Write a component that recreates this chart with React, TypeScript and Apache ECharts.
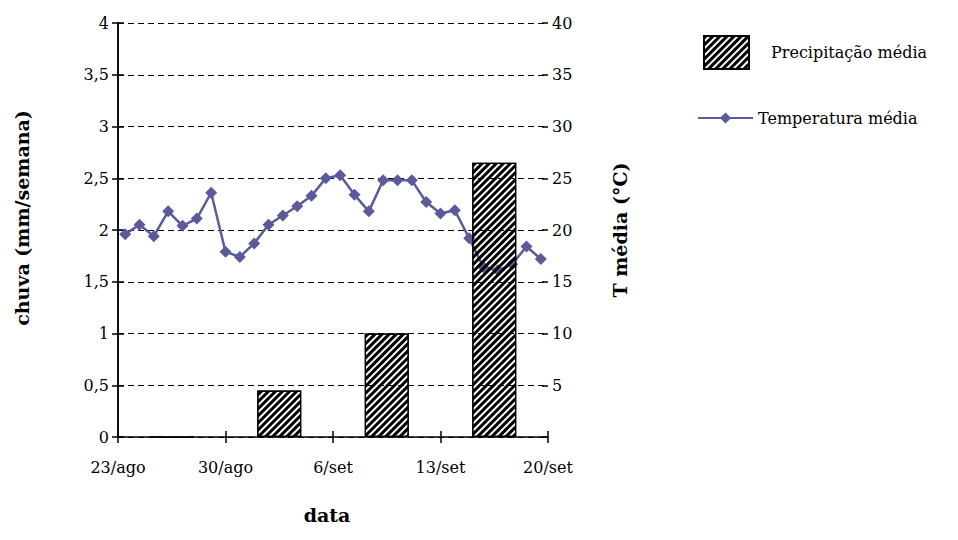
import React, { useEffect, useRef } from "react";
import * as echarts from "echarts";

const tickLabels = ["23/ago", "30/ago", "6/set", "13/set", "20/set"];
const weeks = ["23/ago-30/ago", "30/ago-6/set", "6/set-13/set", "13/set-20/set"];
const precipitation = [0, 0.45, 1.0, 2.65];
const days = [
  "22/ago", "23/ago", "24/ago", "25/ago", "26/ago", "27/ago", "28/ago", "29/ago", "30/ago", "31/ago",
  "1/set", "2/set", "3/set", "4/set", "5/set", "6/set", "7/set", "8/set", "9/set", "10/set",
  "11/set", "12/set", "13/set", "14/set", "15/set", "16/set", "17/set", "18/set", "19/set", "20/set",
];
const temperature = [
  19.6, 20.5, 19.4, 21.8, 20.4, 21.1, 23.6, 17.9, 17.4, 18.7,
  20.5, 21.4, 22.3, 23.3, 25.0, 25.3, 23.4, 21.8, 24.8, 24.8,
  24.8, 22.7, 21.6, 21.9, 19.2, 16.4, 16.1, 16.7, 18.4, 17.2,
];

const FONT = "DejaVu Serif";
const LINE_COLOR = "#5b5b9b";

export default function App() {
  const ref = useRef<HTMLDivElement>(null);
  useEffect(() => {
    const chart = echarts.init(ref.current!, null, { renderer: "svg" });
    const decal = {
      symbol: "rect",
      symbolSize: 1,
      color: "#000",
      backgroundColor: "rgba(255,255,255,0)",
      dashArrayX: [1, 0],
      dashArrayY: [2.2, 1.4],
      rotation: -Math.PI / 4,
    };
    chart.setOption({
      animation: false,
      backgroundColor: "#fff",
      textStyle: { fontFamily: FONT, color: "#000" },
      grid: { left: 118, right: 410, top: 23, bottom: 103 },
      legend: [
        {
          data: [{ name: "Precipitação média", icon: "rect" }],
          left: 703,
          top: 35,
          padding: 0,
          itemWidth: 45,
          itemHeight: 33,
          textStyle: { fontFamily: FONT, fontSize: 16, color: "#000", padding: [0, 0, 0, 17] },
        },
        {
          data: ["Temperatura média"],
          left: 697,
          top: 110,
          padding: 0,
          itemWidth: 55,
          itemHeight: 14,
          textStyle: { fontFamily: FONT, fontSize: 16, color: "#000" },
        },
      ],
      xAxis: [
        {
          type: "value",
          min: 0,
          max: 28,
          interval: 7,
          axisLine: { show: true, lineStyle: { color: "#000", width: 1.5 } },
          axisTick: { show: true, length: 6, lineStyle: { color: "#000", width: 1.5 } },
          axisLabel: {
            fontFamily: FONT,
            fontSize: 16,
            color: "#000",
            margin: 22,
            formatter: (v: number) => tickLabels[Math.round(v / 7)] ?? "",
          },
          splitLine: { show: false },
        },
        {
          type: "value",
          min: 0,
          max: 28,
          interval: 7,
          position: "bottom",
          axisLine: { show: false },
          axisTick: { show: true, inside: true, length: 6, lineStyle: { color: "#000", width: 1.5 } },
          axisLabel: { show: false },
          splitLine: { show: false },
        },
        {
          type: "category",
          data: weeks,
          show: false,
        },
        {
          type: "category",
          data: days,
          boundaryGap: true,
          show: false,
        },
      ],
      yAxis: [
        {
          type: "value",
          min: 0,
          max: 4,
          interval: 0.5,
          position: "left",
          axisLine: { show: true, lineStyle: { color: "#000", width: 1.5 } },
          axisTick: { show: true, length: 6, lineStyle: { color: "#000", width: 1.5 } },
          axisLabel: {
            fontFamily: FONT,
            fontSize: 16,
            color: "#000",
            margin: 9,
            formatter: (v: number) => String(v).replace(".", ","),
          },
          splitLine: { show: false },
        },
        {
          type: "value",
          min: 0,
          max: 40,
          interval: 5,
          position: "right",
          axisLine: { show: true, lineStyle: { color: "#000", width: 1.5 } },
          axisTick: { show: true, length: 6, lineStyle: { color: "#000", width: 1.5 } },
          axisLabel: {
            fontFamily: FONT,
            fontSize: 16,
            color: "#000",
            margin: 4,
            formatter: (v: number) => (v === 0 ? "" : String(v)),
          },
          splitLine: { show: true, lineStyle: { color: "#000", width: 1.2, type: [6, 4] } },
        },
        {
          type: "value",
          min: 0,
          max: 40,
          interval: 5,
          position: "right",
          axisLine: { show: false },
          axisTick: { show: true, inside: true, length: 6, lineStyle: { color: "#000", width: 1.5 } },
          axisLabel: { show: false },
          splitLine: { show: false },
        },
      ],
      graphic: [
        {
          type: "text",
          x: 22,
          y: 218,
          rotation: Math.PI / 2,
          style: {
            text: "chuva (mm/semana)",
            fontFamily: FONT,
            fontSize: 19,
            fontWeight: "bold",
            fill: "#000",
            align: "center",
            verticalAlign: "middle",
          },
        },
        {
          type: "text",
          x: 620,
          y: 230,
          rotation: Math.PI / 2,
          style: {
            text: "T média (°C)",
            fontFamily: FONT,
            fontSize: 19,
            fontWeight: "bold",
            fill: "#000",
            align: "center",
            verticalAlign: "middle",
          },
        },
        {
          type: "text",
          x: 327,
          y: 515,
          style: {
            text: "data",
            fontFamily: FONT,
            fontSize: 19,
            fontWeight: "bold",
            fill: "#000",
            align: "center",
            verticalAlign: "middle",
          },
        },
      ],
      series: [
        {
          name: "Temperatura média",
          type: "line",
          xAxisIndex: 3,
          yAxisIndex: 1,
          data: temperature,
          symbol: "diamond",
          symbolSize: 12,
          showAllSymbol: true,
          lineStyle: { color: LINE_COLOR, width: 2.5 },
          itemStyle: { color: LINE_COLOR },
          z: 2,
        },
        {
          name: "Precipitação média",
          type: "bar",
          xAxisIndex: 2,
          yAxisIndex: 0,
          data: precipitation,
          barWidth: 44,
          itemStyle: {
            color: "rgba(255,255,255,0)",
            borderColor: "#000",
            borderWidth: 1.2,
            decal,
          },
          z: 3,
        },
      ],
    });
    return () => chart.dispose();
  }, []);
  return (
    <div
      ref={ref}
      style={{ position: "fixed", left: 0, top: 0, width: 958, height: 540 }}
    />
  );
}
